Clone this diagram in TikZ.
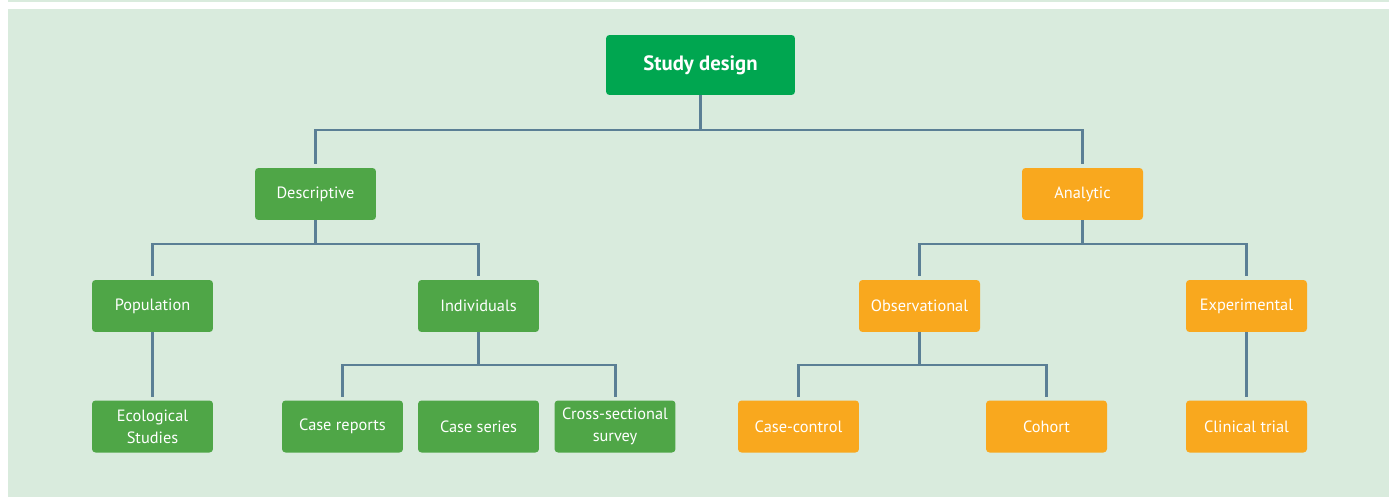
\documentclass[tikz,border=0pt]{standalone}
\usepackage{fontspec}
\setmainfont{PT Sans}
\usepackage{xcolor}
\usetikzlibrary{positioning,calc}

\definecolor{bggreen}{HTML}{D9EBDD}
\definecolor{topgreen}{HTML}{00A650}
\definecolor{descgreen}{HTML}{4FA647}
\definecolor{analorange}{HTML}{F9A81E}
\definecolor{linkgray}{HTML}{5B7F95}

\begin{document}
\begin{tikzpicture}[x=0.02cm, y=-0.02cm,
  box/.style={rounded corners=2pt, minimum width=2.42cm, minimum height=1.04cm,
    text=white, font=\fontsize{9.3}{12.5}\selectfont, align=center, inner sep=1pt},
  descbox/.style={box, fill=descgreen},
  analbox/.style={box, fill=analorange},
  topbox/.style={box, fill=topgreen, minimum width=3.78cm, minimum height=1.2cm,
    font=\bfseries\fontsize{11.8}{13}\selectfont},
  link/.style={draw=linkgray, line width=1.7pt, shorten >=2pt}]

  % Page and background panel
  \useasboundingbox (0,0) rectangle (1389,497);
  \fill[bggreen] (8,0) rectangle (1389,2);
  \fill[bggreen] (8,9) rectangle (1389,497);

  % Root
  \node[topbox] (study) at (700.5,65) {Study design};

  % Second level
  \node[descbox] (desc) at (315.5,194) {Descriptive};
  \node[analbox] (anal) at (1082.5,194) {Analytic};

  % Third level
  \node[descbox] (pop)   at (152.5,306)  {Population};
  \node[descbox] (indiv) at (478.5,306)  {Individuals};
  \node[analbox] (obs)   at (919.5,306)  {Observational};
  \node[analbox] (exper) at (1246.5,306) {Experimental};

  % Leaves
  \node[descbox] (eco)      at (152.5,426.5)  {Ecological\\Studies};
  \node[descbox] (casrep)   at (342.5,426.5)  {Case reports};
  \node[descbox] (casser)   at (478.5,426.5)  {Case series};
  \node[descbox] (cross)    at (615,426.5)    {Cross-sectional\\survey};
  \node[analbox] (casctl)   at (798.5,426.5)  {Case-control};
  \node[analbox] (cohort)   at (1046.5,426.5) {Cohort};
  \node[analbox] (clinical) at (1246.5,426.5) {Clinical trial};

  % Junctions
  \coordinate (jstudy) at (700.5,130);
  \coordinate (jdesc)  at (315.5,244);
  \coordinate (janal)  at (1082.5,244);
  \coordinate (jindiv) at (478.5,365);
  \coordinate (jobs)   at (919.5,365);

  % Links
  \draw[link] (study) -- (jstudy) -| (desc);
  \draw[link] (jstudy) -| (anal);
  \draw[link] (desc) -- (jdesc) -| (pop);
  \draw[link] (jdesc) -| (indiv);
  \draw[link] (anal) -- (janal) -| (obs);
  \draw[link] (janal) -| (exper);
  \draw[link] (pop) -- (eco);
  \draw[link] (indiv) -- (jindiv) -| (casrep);
  \draw[link] (jindiv) -| (cross);
  \draw[link] (obs) -- (jobs) -| (casctl);
  \draw[link] (jobs) -| (cohort);
  \draw[link] (exper) -- (clinical);

\end{tikzpicture}
\end{document}
